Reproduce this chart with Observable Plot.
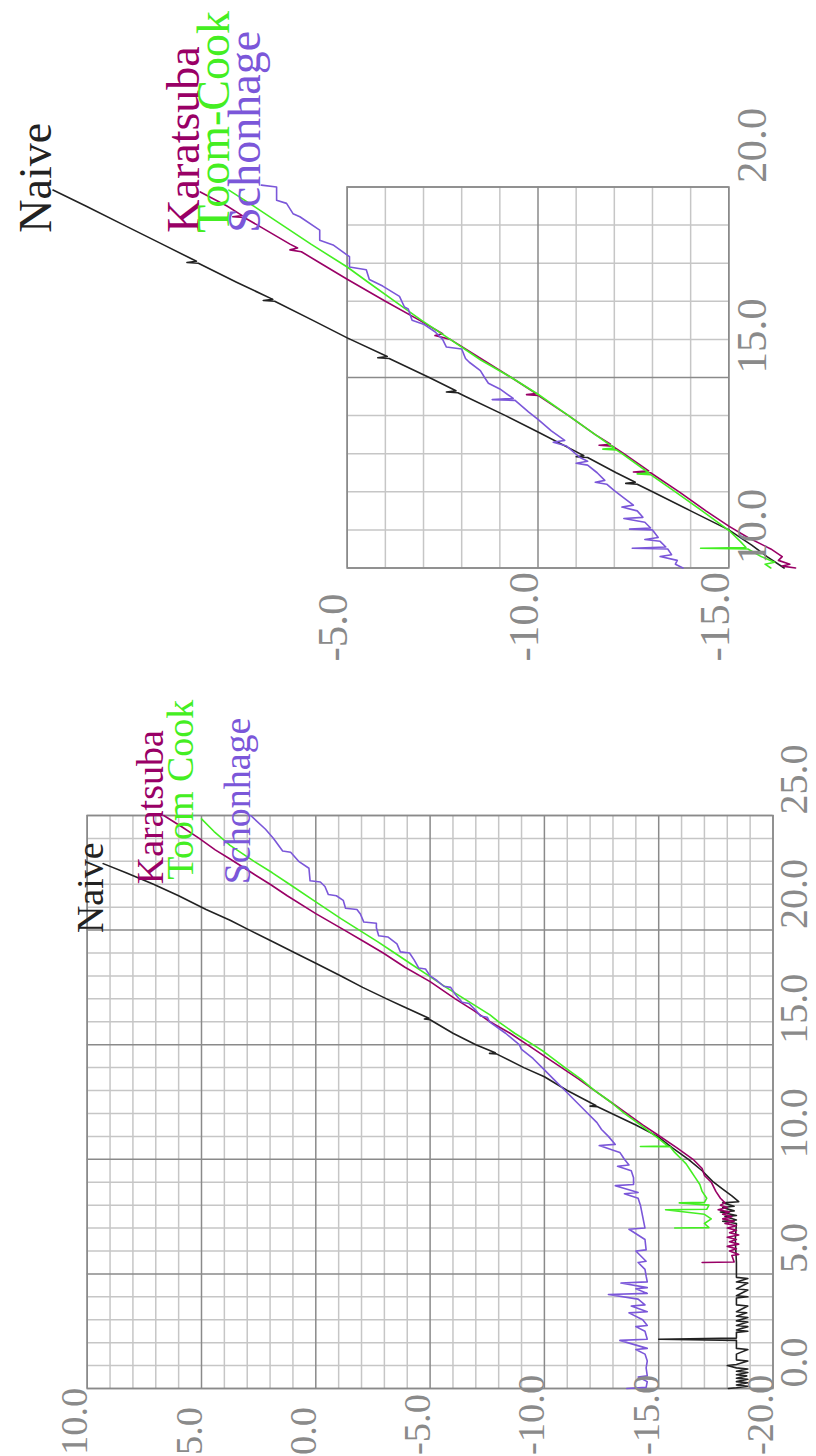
<!DOCTYPE html>
<html><head><meta charset="utf-8">
<script src="https://cdn.jsdelivr.net/npm/d3@7"></script>
<script src="https://cdn.jsdelivr.net/npm/@observablehq/plot@0.6"></script>
<style>
html,body{margin:0;padding:0;background:#fff;}
#page{position:relative;width:816px;height:1456px;overflow:hidden;background:#fff;}
#page svg{position:absolute;left:0;top:0;}
</style></head><body><div id="page"></div>
<script>
// ---- series names & colours ----
const names1 = ["Naive", "Karatsuba", "Toom Cook", "Schonhage"];
const names2 = ["Naive", "Karatsuba", "Toom-Cook", "Schonhage"];
const colors = ["#222222", "#990066", "#44ee22", "#7b57d9"];

// ---- panel 1 (lower) : [size, time] ----
const p1Naive = [[0.0,-18.05],[0.03,-18.4],[0.1,-18.9],[0.15,-18.4],[0.25,-18.9],[0.3,-18.4],[0.4,-18.9],[0.45,-18.4],[0.55,-18.85],[0.6,-18.4],[0.7,-18.9],[0.75,-18.4],[0.85,-18.9],[0.9,-18.4],[1.0,-18.0],[1.05,-18.4],[1.2,-18.9],[1.25,-18.4],[1.5,-18.4],[1.7,-18.9],[1.75,-18.4],[2.1,-18.4],[2.15,-15.0],[2.2,-18.4],[2.45,-18.4],[2.5,-18.9],[2.55,-18.4],[2.7,-18.9],[2.75,-18.4],[2.9,-18.9],[2.95,-18.4],[3.1,-18.9],[3.15,-18.4],[3.3,-18.85],[3.35,-18.4],[3.6,-18.9],[3.65,-18.4],[3.95,-18.4],[4.0,-18.9],[4.05,-18.4],[4.3,-18.9],[4.35,-18.4],[4.6,-18.9],[4.65,-18.4],[4.8,-18.9],[4.85,-18.4],[5.5,-18.4],[6.5,-18.35],[7.2,-18.4],[7.3,-17.8],[7.35,-18.4],[7.5,-17.9],[7.55,-18.4],[7.7,-17.7],[7.75,-18.3],[7.9,-17.8],[7.95,-18.3],[8.1,-17.8],[8.15,-18.5],[8.4,-18.2],[8.7,-17.8],[9.0,-17.4],[9.5,-16.9],[10.0,-16.3],[10.5,-15.6],[11.0,-14.95],[11.5,-14.0],[12.3,-12.3],[12.32,-12.0],[12.35,-12.25],[13.0,-11.0],[13.6,-10.0],[14.0,-9.1],[14.6,-7.9],[14.62,-7.6],[14.65,-7.85],[15.0,-7.0],[15.5,-6.0],[16.09,-5.0],[16.12,-4.75],[16.15,-4.95],[16.7,-3.75],[17.0,-3.1],[17.5,-2.05],[18.0,-1.1],[18.55,0.0],[19.0,0.9],[19.5,1.9],[20.0,2.9],[20.43,3.75],[20.9,4.8],[21.5,6.0],[22.0,7.1],[22.5,8.3],[22.9,9.3]];
const p1Karatsuba = [[5.5,-16.9],[5.52,-18.3],[5.8,-18.2],[5.85,-18.5],[6.0,-18.1],[6.1,-18.4],[6.2,-18.0],[6.3,-18.5],[6.4,-18.1],[6.5,-18.4],[6.6,-18.0],[6.7,-18.5],[6.8,-18.1],[6.9,-18.4],[7.0,-18.0],[7.1,-18.4],[7.2,-17.9],[7.3,-18.3],[7.4,-17.8],[7.5,-18.2],[7.6,-17.8],[7.7,-18.1],[7.8,-17.6],[7.9,-18.0],[8.0,-17.7],[8.1,-17.9],[8.3,-17.7],[8.6,-17.5],[9.0,-17.3],[9.3,-17.0],[9.6,-16.9],[10.0,-16.5],[10.5,-15.8],[11.04,-15.0],[11.5,-14.3],[12.0,-13.6],[12.5,-12.9],[13.0,-12.2],[13.5,-11.5],[14.0,-10.75],[14.5,-10.0],[15.0,-9.25],[15.5,-8.5],[16.0,-7.62],[16.5,-6.9],[17.0,-6.1],[17.75,-5.0],[18.38,-3.9],[19.0,-2.95],[19.5,-2.1],[20.0,-1.25],[20.72,0.0],[21.5,1.25],[22.0,2.0],[22.5,2.8],[23.1,3.75],[23.5,4.4],[24.0,5.1],[24.5,5.85],[25.0,6.65]];
const p1Toom = [[7.0,-15.7],[7.02,-17.2],[7.2,-17.0],[7.4,-17.3],[7.6,-17.0],[7.8,-15.3],[7.82,-17.1],[8.0,-17.2],[8.1,-15.9],[8.12,-17.0],[8.3,-17.1],[8.6,-16.9],[8.9,-16.8],[9.2,-16.6],[9.5,-16.4],[9.8,-16.2],[10.0,-16.0],[10.3,-15.7],[10.55,-15.5],[10.56,-14.2],[10.58,-15.4],[10.9,-15.0],[11.5,-14.2],[12.0,-13.5],[12.5,-12.9],[13.0,-12.2],[13.5,-11.6],[14.0,-10.9],[14.68,-10.0],[15.0,-9.5],[15.5,-8.7],[16.0,-8.0],[16.3,-7.62],[17.0,-6.5],[17.5,-5.7],[17.97,-5.0],[18.5,-4.2],[19.0,-3.45],[19.5,-2.7],[20.0,-1.9],[20.5,-1.1],[21.23,0.0],[22.0,1.15],[22.5,1.9],[23.0,2.7],[23.7,3.75],[24.3,4.45],[24.85,5.0]];
const p1Schonhage = [[0.0,-13.6],[0.05,-14.45],[0.3,-14.5],[0.5,-14.1],[0.55,-14.5],[0.9,-14.45],[1.2,-14.5],[1.5,-14.4],[1.7,-14.0],[1.75,-14.5],[2.1,-13.3],[2.15,-14.5],[2.5,-14.4],[2.7,-14.0],[2.75,-14.5],[3.0,-14.3],[3.3,-13.7],[3.35,-14.5],[3.6,-13.8],[3.65,-14.4],[3.9,-14.1],[4.1,-12.8],[4.15,-14.5],[4.35,-14.0],[4.4,-14.5],[4.6,-13.35],[4.65,-14.5],[4.9,-14.45],[5.2,-14.4],[5.5,-14.1],[5.55,-14.45],[6.0,-14.0],[6.05,-14.45],[6.5,-14.4],[6.95,-13.7],[7.0,-14.4],[7.5,-14.3],[8.0,-14.2],[8.3,-14.1],[8.5,-13.5],[8.55,-14.1],[8.85,-13.1],[8.9,-13.9],[9.2,-13.9],[9.5,-13.8],[9.7,-13.2],[9.75,-13.7],[10.0,-13.5],[10.3,-13.3],[10.6,-12.4],[10.65,-13.1],[11.0,-12.8],[11.3,-12.5],[11.6,-12.3],[12.0,-11.9],[12.5,-11.4],[13.0,-10.9],[13.5,-10.4],[13.9,-10.0],[14.4,-9.5],[14.8,-9.0],[15.0,-8.9],[15.5,-8.3],[16.0,-7.6],[16.2,-7.5],[16.25,-7.2],[16.5,-7.0],[16.8,-6.7],[16.85,-6.4],[17.2,-6.1],[17.5,-5.9],[17.55,-5.6],[17.8,-5.3],[18.0,-5.0],[18.3,-4.8],[18.35,-4.5],[18.7,-4.3],[19.0,-4.1],[19.05,-3.7],[19.4,-3.55],[19.7,-3.15],[19.75,-2.75],[20.1,-2.65],[20.3,-2.65],[20.35,-2.1],[20.7,-1.95],[20.9,-1.8],[20.95,-1.3],[21.3,-1.2],[21.5,-0.9],[21.55,-0.55],[21.9,-0.4],[22.1,-0.2],[22.15,0.25],[22.7,0.3],[23.0,0.75],[23.4,1.1],[23.45,1.45],[24.0,1.85],[24.4,2.2],[25.0,2.85]];

// ---- panel 2 (upper) : [size, time] ----
const p2Naive = [[10.0,-16.45],[10.3,-16.0],[10.6,-15.6],[11.0,-15.0],[11.5,-14.0],[12.0,-13.0],[12.2,-12.6],[12.22,-12.3],[12.25,-12.55],[12.5,-12.05],[12.9,-11.3],[12.92,-11.0],[12.95,-11.2],[13.57,-10.0],[14.0,-9.15],[14.5,-8.1],[14.6,-7.9],[14.62,-7.6],[14.65,-7.85],[15.0,-7.15],[15.5,-6.1],[15.52,-5.8],[15.55,-6.05],[16.04,-5.0],[16.5,-4.1],[17.0,-3.1],[17.02,-2.8],[17.05,-3.05],[17.5,-2.1],[18.0,-1.1],[18.02,-0.8],[18.05,-1.05],[18.5,-0.15],[19.0,0.85],[19.5,1.85],[19.92,2.71]];
const p2Karatsuba = [[10.0,-16.75],[10.05,-16.4],[10.1,-16.6],[10.2,-16.3],[10.3,-16.4],[10.5,-16.1],[10.6,-15.9],[10.8,-15.5],[11.1,-15.0],[11.5,-14.4],[12.0,-13.7],[12.5,-12.95],[12.52,-12.5],[12.55,-12.9],[13.0,-12.25],[13.2,-11.95],[13.22,-11.6],[13.25,-11.9],[13.5,-11.5],[14.0,-10.8],[14.53,-10.0],[14.55,-9.7],[14.58,-9.95],[15.0,-9.3],[15.5,-8.5],[16.0,-7.7],[16.1,-7.3],[16.15,-7.5],[16.5,-6.9],[17.0,-6.0],[17.58,-5.0],[18.0,-4.3],[18.3,-3.8],[18.35,-3.5],[18.4,-3.7],[18.5,-3.5],[19.0,-2.65],[19.2,-2.3],[19.22,-2.0],[19.25,-2.25],[19.5,-1.85],[19.87,-1.15]];
const p2Toom = [[10.0,-16.1],[10.1,-15.95],[10.15,-16.2],[10.3,-15.85],[10.5,-15.5],[10.52,-14.26],[10.54,-15.45],[10.7,-15.3],[10.99,-15.0],[11.5,-14.3],[12.0,-13.6],[12.45,-12.95],[12.47,-12.6],[12.5,-12.9],[13.0,-12.2],[13.1,-12.05],[13.12,-11.7],[13.15,-12.0],[13.5,-11.5],[14.0,-10.8],[14.56,-10.0],[15.0,-9.3],[15.46,-8.5],[16.0,-7.7],[16.5,-6.95],[17.0,-6.25],[17.5,-5.55],[17.9,-5.0],[18.5,-4.05],[19.0,-3.3],[19.5,-2.55],[19.92,-1.9]];
const p2Schonhage = [[10.0,-13.8],[10.1,-13.6],[10.2,-13.65],[10.3,-13.2],[10.35,-13.5],[10.5,-13.4],[10.52,-12.47],[10.55,-13.35],[10.7,-13.2],[10.75,-12.8],[10.8,-13.15],[11.0,-13.0],[11.02,-12.4],[11.05,-12.95],[11.2,-12.8],[11.3,-12.25],[11.33,-12.75],[11.5,-12.6],[11.6,-12.2],[11.65,-12.5],[11.8,-12.3],[12.03,-12.0],[12.2,-11.8],[12.25,-11.5],[12.3,-11.75],[12.5,-11.55],[12.7,-11.3],[12.75,-11.0],[12.8,-11.3],[12.9,-11.1],[13.2,-10.75],[13.3,-10.4],[13.35,-10.7],[13.6,-10.35],[13.9,-10.0],[14.1,-9.75],[14.4,-9.4],[14.42,-8.8],[14.45,-9.35],[14.7,-9.0],[14.85,-8.7],[15.0,-8.6],[15.18,-8.49],[15.4,-8.2],[15.5,-8.1],[15.75,-8.0],[15.8,-7.6],[16.0,-7.5],[16.2,-7.3],[16.4,-7.0],[16.5,-6.7],[16.8,-6.6],[16.85,-6.5],[17.13,-6.37],[17.4,-5.93],[17.57,-5.58],[17.83,-5.5],[17.9,-5.06],[18.17,-5.06],[18.48,-4.63],[18.6,-4.28],[18.87,-4.28],[19.22,-3.76],[19.3,-3.58],[19.57,-3.41],[19.65,-3.15],[20.0,-3.15],[20.05,-2.75]];

// ---- ticks ----
const p1SizeTicks = [0, 5, 10, 15, 20, 25];
const p1TimeTicks = [10, 5, 0, -5, -10, -15, -20];
const p2SizeTicks = [10, 15, 20];
const p2TimeTicks = [-5, -10, -15];

// ---- label anchors (data units) ----
const p1LabelSize = [19.87, 22.0, 22.2, 22.0];
const p1LabelTime = [9.3, 6.68, 5.37, 2.87];
const p2LabelSize = [18.8, 18.8, 18.8, 18.8];
const p2LabelTime = [2.76, -1.12, -1.9, -2.71];

const FONT = "'Liberation Serif', 'Times New Roman', serif";
const MAJOR = "#8a8a8a", MINOR = "#c6c6c6", TICKC = "#8a8a8a";

function intRange(a, b) { const r = []; for (let v = Math.min(a, b); v <= Math.max(a, b); v++) r.push(v); return r; }

function panel(cfg) {
  const sizeMinor = intRange(cfg.sizeDomain[0], cfg.sizeDomain[1]).filter(v => v % 5 !== 0);
  const timeMinor = intRange(cfg.timeDomain[0], cfg.timeDomain[1]).filter(v => v % 5 !== 0);
  const marks = [
    Plot.ruleX(timeMinor, {x: d => d, stroke: MINOR, strokeWidth: 1.5}),
    Plot.ruleY(sizeMinor, {y: d => d, stroke: MINOR, strokeWidth: 1.5}),
    Plot.ruleX(cfg.timeTicks, {x: d => d, stroke: MAJOR, strokeWidth: 1.5}),
    Plot.ruleY(cfg.sizeTicks, {y: d => d, stroke: MAJOR, strokeWidth: 1.5}),
    Plot.frame({stroke: MAJOR, strokeWidth: 1.5})
  ];
  cfg.series.forEach((s, i) => {
    marks.push(Plot.line(s.map(([size, time]) => ({size, time})), {x: "time", y: "size", stroke: colors[i], strokeWidth: 1.6}));
  });
  marks.push(Plot.text(cfg.timeTicks, {x: d => d, text: d => d.toFixed(1), frameAnchor: "bottom", dy: cfg.timeDy, rotate: -90, textAnchor: "start", lineAnchor: "bottom", fill: TICKC, fontSize: cfg.timeFont, fontFamily: FONT}));
  marks.push(Plot.text(cfg.sizeTicks, {y: d => d, text: d => d.toFixed(1), frameAnchor: "right", dx: cfg.sizeDx, dy: cfg.sizeDy, rotate: -90, textAnchor: "start", lineAnchor: "top", fill: TICKC, fontSize: cfg.tickFont, fontFamily: FONT}));
  cfg.names.forEach((n, i) => {
    marks.push(Plot.text([{n, size: cfg.labelSize[i], time: cfg.labelTime[i]}], {x: "time", y: "size", text: "n", rotate: -90, textAnchor: "start", lineAnchor: "bottom", fill: colors[i], fontSize: cfg.labelFont, fontFamily: FONT}));
  });
  return Plot.plot({
    width: 816, height: 1456,
    marginLeft: cfg.m[0], marginRight: cfg.m[1], marginTop: cfg.m[2], marginBottom: cfg.m[3],
    x: {domain: cfg.timeDomain, axis: null},
    y: {domain: cfg.sizeDomain, axis: null},
    style: {background: "none", overflow: "visible", fontFamily: FONT},
    marks
  });
}

const page = document.getElementById("page");
page.appendChild(panel({
  series: [p1Naive, p1Karatsuba, p1Toom, p1Schonhage], names: names1,
  sizeDomain: [0, 25], timeDomain: [10, -20],
  sizeTicks: p1SizeTicks, timeTicks: p1TimeTicks,
  labelSize: p1LabelSize, labelTime: p1LabelTime,
  m: [86.7, 43.5, 815, 68],
  tickFont: 40, timeFont: 38.5, labelFont: 38, timeDy: 66.5, sizeDx: 6, sizeDy: -1
}));
page.appendChild(panel({
  series: [p2Naive, p2Karatsuba, p2Toom, p2Schonhage], names: names2,
  sizeDomain: [10, 20], timeDomain: [-5, -15],
  sizeTicks: p2SizeTicks, timeTicks: p2TimeTicks,
  labelSize: p2LabelSize, labelTime: p2LabelTime,
  m: [346.7, 87.7, 186.5, 888.5],
  tickFont: 43, timeFont: 43, labelFont: 46, timeDy: 93.5, sizeDx: 7, sizeDy: -4
}));
</script></body></html>
